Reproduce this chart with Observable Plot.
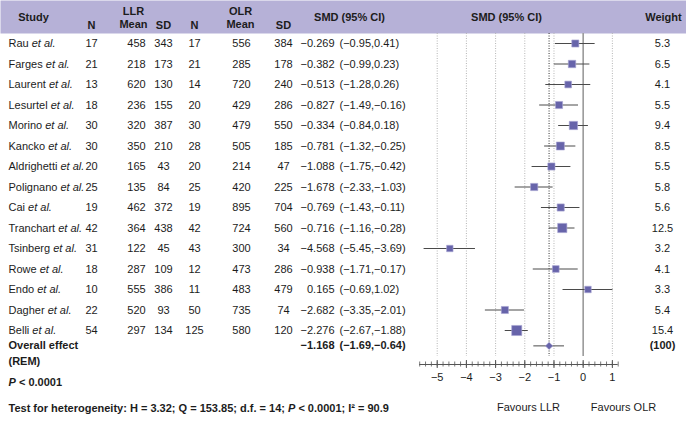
<!DOCTYPE html>
<html>
<head>
<meta charset="utf-8">
<script src="https://cdn.jsdelivr.net/npm/d3@7"></script>
<script src="https://cdn.jsdelivr.net/npm/@observablehq/plot@0.6"></script>
<style>
  html, body { margin: 0; padding: 0; background: #fff; }
  #chart { width: 686px; height: 423px; }
</style>
</head>
<body>
<div id="chart"></div>
<script>
// ---------------- data ----------------
const studies = ["Rau","Farges","Laurent","Lesurtel","Morino","Kancko","Aldrighetti","Polignano","Cai","Tranchart","Tsinberg","Rowe","Endo","Dagher","Belli"];
const llrN    = [17,21,13,18,30,30,20,25,19,42,31,18,10,22,54];
const llrMean = [458,218,620,236,320,350,165,135,462,364,122,287,555,520,297];
const llrSD   = [343,173,130,155,387,210,43,84,372,438,45,109,386,93,134];
const olrN    = [17,21,14,20,30,28,20,25,19,42,43,12,11,50,125];
const olrMean = [556,285,720,429,479,505,214,420,895,724,300,473,483,735,580];
const olrSD   = [384,178,240,286,550,185,47,225,704,560,34,286,479,74,120];
const smd     = [-0.269,-0.382,-0.513,-0.827,-0.334,-0.781,-1.088,-1.678,-0.769,-0.716,-4.568,-0.938,0.165,-2.682,-2.276];
const ciLow   = [-0.95,-0.99,-1.28,-1.49,-0.84,-1.32,-1.75,-2.33,-1.43,-1.16,-5.45,-1.71,-0.69,-3.35,-2.67];
const ciHigh  = [0.41,0.23,0.26,-0.16,0.18,-0.25,-0.42,-1.03,-0.11,-0.28,-3.69,-0.17,1.02,-2.01,-1.88];
const weight  = [5.3,6.5,4.1,5.5,9.4,8.5,5.5,5.8,5.6,12.5,3.2,4.1,3.3,5.4,15.4];
const overall = {label: "Overall effect", sub: "(REM)", smd: -1.168, lo: -1.69, hi: -0.64, weight: "(100)"};
const axisTicks = [-5,-4,-3,-2,-1,0,1];
const pText = "*P* < 0.0001";
const hetText = "Test for heterogeneity: H = 3.32; Q = 153.85; d.f. = 14; *P* < 0.0001; I² = 90.9";
const favours = ["Favours LLR", "Favours OLR"];

// ---------------- layout (pixels) ----------------
const W = 686, H = 423;
const headerH = 33;
const font = "'Liberation Sans', Arial, Helvetica, sans-serif";
const fs = 11;
const ink = "#1c1c1c";
const purple = "#6764aa";
const col = {study: 8, n1: 91, mean1: 136, sd1: 163, n2: 194, mean2: 241, sd2: 283, estEnd: 334, ciStart: 339, weight: 662};
const yDomain = [0, studies.length - 1], yRange = [43, 330];
const pxToRow = d3.scaleLinear(yRange, yDomain); // pixel -> row units, for layout only
const xDomain = [-5.6, 1.2], xRange = [419.2, 617.7];
const axisY = 364, gridTop = headerH, gridBottom = 356;
const overallRow = studies.length - 0.25;

const minus = v => (v < 0 ? "\u2212" : "") + Math.abs(v);
const f3 = v => (v < 0 ? "\u2212" : "") + Math.abs(v).toFixed(3);
const f2 = v => (v < 0 ? "\u2212" : "") + Math.abs(v).toFixed(2);

const rows = studies.map((s, i) => ({
  i, name: `${s} *et al.*`,
  n1: llrN[i], m1: llrMean[i], s1: llrSD[i],
  n2: olrN[i], m2: olrMean[i], s2: olrSD[i],
  est: f3(smd[i]), ci: `(${f2(ciLow[i])},${f2(ciHigh[i])})`,
  smd: smd[i], lo: ciLow[i], hi: ciHigh[i], w: weight[i]
}));
const ov = [{i: overallRow, smd: overall.smd, lo: overall.lo, hi: overall.hi}];

const minorTicks = d3.range(Math.round(xDomain[0] * 5), Math.round(xDomain[1] * 5) + 1).map(k => k / 5);

const colText = (key, dx, anchor = "middle", extra = {}) =>
  Plot.text(rows, {y: "i", frameAnchor: "left", dx, text: key, textAnchor: anchor, lineAnchor: "middle", fill: ink, fontSize: fs, ...extra});

const fixed = (label, dx, dy, anchor = "middle", bold = true) =>
  Plot.text([label], {frameAnchor: "top-left", dx, dy, text: d => d, textAnchor: anchor, lineAnchor: "middle", fontWeight: bold ? "bold" : "normal", fill: ink, fontSize: fs});

const rowText = (label, y, dx, anchor, bold = true) =>
  Plot.text([label], {y, frameAnchor: "left", dx, text: d => d, textAnchor: anchor, lineAnchor: "middle", fontWeight: bold ? "bold" : "normal", fill: ink, fontSize: fs});

const chart = Plot.plot({
  width: W, height: H,
  marginTop: 0, marginRight: 0, marginBottom: 0, marginLeft: 0,
  style: {fontFamily: font, fontSize: fs + "px", background: "#fff", overflow: "visible"},
  x: {domain: xDomain, range: xRange, axis: null},
  y: {domain: yDomain, range: yRange, axis: null},
  r: {type: "linear", domain: [0, 15.4], range: [5.5 / 1.772, 10.1 / 1.772]},
  marks: [
    // header band
    Plot.frame({fill: "#b6b1d7", stroke: "none", insetBottom: H - headerH}),
    fixed("Study", 33, 17),
    fixed("N", col.n1, 25),
    fixed("LLR", 133, 11), fixed("Mean", 133, 24),
    fixed("SD", col.sd1, 25),
    fixed("N", col.n2, 25),
    fixed("OLR", 240, 11), fixed("Mean", 240, 24),
    fixed("SD", col.sd2, 25),
    fixed("SMD (95% CI)", 349, 17),
    fixed("SMD (95% CI)", 506, 17),
    fixed("Weight", 663, 17),

    // grid lines
    Plot.ruleX(axisTicks.filter(d => d !== 0), {x: d => d, y1: pxToRow(gridTop), y2: pxToRow(gridBottom), stroke: "#b5b5b5", strokeWidth: 1, strokeDasharray: "1,1.5"}),
    Plot.ruleX([0], {x: d => d, y1: pxToRow(gridTop), y2: pxToRow(gridBottom), stroke: "#9a9a9a", strokeWidth: 1.6}),
    Plot.ruleX([overall.smd], {x: d => d, y1: pxToRow(gridTop), y2: pxToRow(gridBottom), stroke: "#333", strokeWidth: 1, strokeDasharray: "1,1.5"}),

    // table text
    colText("name", col.study, "start"),
    colText("n1", col.n1), colText("m1", col.mean1), colText("s1", col.sd1),
    colText("n2", col.n2), colText("m2", col.mean2), colText("s2", col.sd2),
    colText("est", col.estEnd, "end"), colText("ci", col.ciStart, "start"),
    colText("w", col.weight),

    // overall row text
    rowText(overall.label, overallRow, col.study, "start"),
    rowText(overall.sub, pxToRow(361), col.study, "start"),
    rowText(f3(overall.smd), overallRow, col.estEnd, "end"),
    rowText(`(${f2(overall.lo)},${f2(overall.hi)})`, overallRow, col.ciStart, "start"),
    rowText(overall.weight, overallRow, col.weight, "middle"),

    // CIs and squares
    Plot.ruleY(rows, {y: "i", x1: "lo", x2: "hi", stroke: "#4a4a4a", strokeWidth: 1}),
    Plot.dot(rows, {y: "i", x: "smd", r: "w", symbol: "square", fill: purple, stroke: "#a9a6d3", strokeWidth: 0.6}),
    Plot.ruleY(ov, {y: "i", x1: "lo", x2: "hi", stroke: "#4a4a4a", strokeWidth: 1}),
    Plot.dot(ov, {y: "i", x: "smd", r: 3.3, symbol: "diamond2", fill: purple, stroke: "#a9a6d3", strokeWidth: 0.6}),

    // axis
    Plot.ruleY([pxToRow(axisY)], {x1: xDomain[0], x2: xDomain[1], stroke: "#555", strokeWidth: 1}),
    Plot.ruleX(minorTicks, {x: d => d, y1: pxToRow(axisY - 2.5), y2: pxToRow(axisY + 2.5), stroke: "#555", strokeWidth: 0.8}),
    Plot.ruleX(axisTicks, {x: d => d, y1: pxToRow(axisY - 4), y2: pxToRow(axisY + 4), stroke: "#555", strokeWidth: 1}),
    Plot.text(axisTicks, {x: d => d, y: pxToRow(377), text: d => minus(d), fill: ink, fontSize: fs}),

    // bottom notes
    fixed(pText, 8, 382, "start"),
    fixed(hetText, 8, 408, "start"),
    fixed(favours[0], 528, 407, "middle", false),
    fixed(favours[1], 623, 407, "middle", false)
  ]
});

// convert *...* markers into italic tspans
const NS = "http://www.w3.org/2000/svg";
chart.querySelectorAll("text").forEach(t => {
  const targets = t.querySelectorAll("tspan").length ? Array.from(t.querySelectorAll("tspan")) : [t];
  targets.forEach(el => {
    const s = el.textContent;
    if (!s.includes("*")) return;
    const parts = s.split("*");
    while (el.firstChild) el.removeChild(el.firstChild);
    parts.forEach((p, k) => {
      if (!p) return;
      if (k % 2 === 1) {
        const ts = document.createElementNS(NS, "tspan");
        ts.setAttribute("font-style", "italic");
        ts.textContent = p;
        el.appendChild(ts);
      } else {
        el.appendChild(document.createTextNode(p));
      }
    });
  });
});

document.getElementById("chart").appendChild(chart);
</script>
</body>
</html>
